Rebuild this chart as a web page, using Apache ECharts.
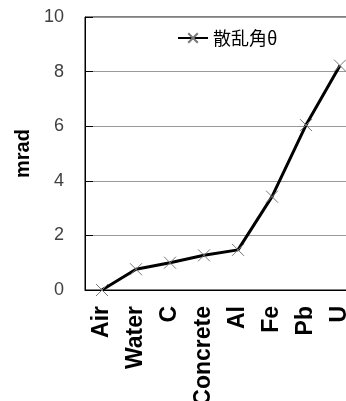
<!DOCTYPE html>
<html>
<head>
<meta charset="utf-8">
<script src="https://cdn.jsdelivr.net/npm/echarts@6/dist/echarts.min.js"></script>
<style>
  html, body { margin: 0; padding: 0; background: #fff; }
  #chart { width: 346px; height: 401px; }
</style>
</head>
<body>
<div id="chart"></div>
<script>
// Scattering angle per material (mrad)
const materials = ['Air', 'Water', 'C', 'Concrete', 'Al', 'Fe', 'Pb', 'U'];
const scatterAngle = [0, 0.76, 1.0, 1.27, 1.47, 3.42, 6.04, 8.22];
const seriesName = '散乱角θ';
const yTicks = { min: 0, max: 10, interval: 2 };

// Thin "x" marker drawn as a stroked path
const crossSymbol = 'path://M0,0L10,10M10,0L0,10';

const chart = echarts.init(document.getElementById('chart'));
chart.setOption({
  animation: false,
  grid: {
    left: 85, top: 17, width: 272, height: 273,
    outerBoundsMode: 'none', containLabel: false,
    show: true, borderColor: '#000', borderWidth: 1, backgroundColor: 'transparent'
  },
  legend: {
    data: [seriesName],
    left: 172, top: 24,
    itemWidth: 30, itemHeight: 12,
    textStyle: { fontFamily: '"Noto Sans CJK JP", sans-serif', fontSize: 18, color: '#000' }
  },
  xAxis: {
    type: 'category',
    data: materials,
    boundaryGap: true,
    axisLine: { lineStyle: { color: '#000', width: 1 } },
    axisTick: { inside: true, length: 8, lineStyle: { color: '#000' } },
    axisLabel: {
      rotate: 90, margin: 16, color: '#000',
      fontFamily: '"Liberation Sans", Arial, sans-serif', fontWeight: 'bold', fontSize: 23
    },
    splitLine: { show: false }
  },
  yAxis: {
    type: 'value',
    min: yTicks.min, max: yTicks.max, interval: yTicks.interval,
    name: 'mrad', nameLocation: 'middle', nameGap: 51, nameRotate: 90,
    nameTextStyle: {
      color: '#000', fontFamily: '"Liberation Sans", Arial, sans-serif', fontWeight: 'bold', fontSize: 20
    },
    axisLine: { show: true, lineStyle: { color: '#000', width: 1 } },
    axisTick: { show: true, inside: true, length: 8, lineStyle: { color: '#000' } },
    axisLabel: {
      margin: 21, color: '#404040',
      fontFamily: '"Liberation Sans", Arial, sans-serif', fontSize: 18
    },
    splitLine: { show: true, lineStyle: { color: '#999', width: 1 } }
  },
  series: [{
    name: seriesName,
    type: 'line',
    data: scatterAngle,
    lineStyle: { color: '#000', width: 3 },
    symbol: crossSymbol,
    symbolSize: 12,
    itemStyle: { color: 'transparent', borderColor: '#777', borderWidth: 1 }
  }]
});
</script>
</body>
</html>
